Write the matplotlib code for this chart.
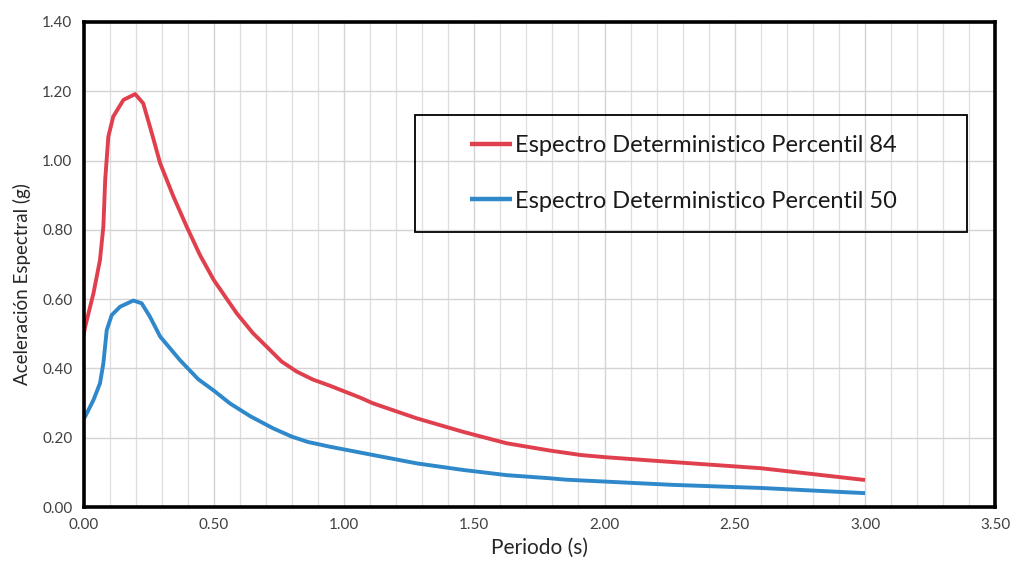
import numpy as np
import matplotlib
matplotlib.use("Agg")
import matplotlib.pyplot as plt
from matplotlib.patches import Rectangle
from matplotlib.ticker import MultipleLocator, FormatStrFormatter

plt.rcParams['font.family'] = ['Lato', 'DejaVu Sans']

# Espectro Deterministico Percentil 84
T_P84  = [0.00, 0.006, 0.038, 0.063, 0.076, 0.083, 0.095, 0.114, 0.153, 0.198, 0.229,
          0.262, 0.294, 0.345, 0.396, 0.447, 0.50, 0.588, 0.65, 0.716, 0.76, 0.818,
          0.88, 0.946, 1.061, 1.112, 1.279, 1.457, 1.624, 1.79, 1.91, 2.00, 2.22,
          2.60, 3.00]
SA_P84 = [0.495, 0.52, 0.617, 0.713, 0.81, 0.944, 1.069, 1.127, 1.175, 1.192, 1.165,
          1.079, 0.992, 0.896, 0.809, 0.727, 0.655, 0.559, 0.502, 0.453, 0.420, 0.391,
          0.368, 0.350, 0.316, 0.299, 0.256, 0.217, 0.184, 0.163, 0.150, 0.144, 0.132,
          0.112, 0.078]

# Espectro Deterministico Percentil 50
T_P50  = [0.00, 0.006, 0.038, 0.063, 0.076, 0.089, 0.108, 0.14, 0.191, 0.223, 0.255,
          0.294, 0.37, 0.44, 0.50, 0.562, 0.64, 0.728, 0.80, 0.86, 0.946, 1.112, 1.279,
          1.457, 1.624, 1.79, 1.85, 2.26, 2.60, 3.00]
SA_P50 = [0.255, 0.261, 0.309, 0.357, 0.415, 0.511, 0.554, 0.578, 0.596, 0.588, 0.549,
          0.492, 0.424, 0.369, 0.336, 0.299, 0.262, 0.227, 0.203, 0.188, 0.174, 0.150,
          0.126, 0.107, 0.092, 0.083, 0.079, 0.064, 0.055, 0.040]

LABELS = ['Espectro Deterministico Percentil 84', 'Espectro Deterministico Percentil 50']
RED = '#e0404e'
BLUE = '#2f88c9'

fig = plt.figure(figsize=(10.13, 5.72), dpi=100)
ax = fig.add_axes([0.0825, 0.1136, 0.900, 0.848])

ax.plot(T_P84, SA_P84, color=RED, lw=2.8, solid_capstyle='butt',
        solid_joinstyle='round', label=LABELS[0])
ax.plot(T_P50, SA_P50, color=BLUE, lw=2.8, solid_capstyle='butt',
        solid_joinstyle='round', label=LABELS[1])

ax.set_xlim(0, 3.5)
ax.set_ylim(0, 1.4)
ax.xaxis.set_major_locator(MultipleLocator(0.5))
ax.xaxis.set_minor_locator(MultipleLocator(0.1))
ax.yaxis.set_major_locator(MultipleLocator(0.2))
ax.xaxis.set_major_formatter(FormatStrFormatter('%.2f'))
ax.yaxis.set_major_formatter(FormatStrFormatter('%.2f'))
ax.grid(which='major', color='#d4d4d4', lw=1.0)
ax.grid(which='minor', axis='x', color='#dedede', lw=0.9)
ax.set_axisbelow(True)
ax.tick_params(which='both', length=0, labelsize=11, labelcolor='#404040', pad=8)

for s in ax.spines.values():
    s.set_linewidth(2.6)
    s.set_color('black')

ax.set_xlabel('Periodo (s)', fontsize=15, color='#262626', labelpad=4)
ax.set_ylabel('Aceleración Espectral (g)', fontsize=13.5, color='#262626')
ax.yaxis.set_label_coords(-0.058, 0.46)

# legend box (wider than its content, as in the source chart)
ax.add_patch(Rectangle((0.3635, 0.567), 0.6053, 0.241, transform=ax.transAxes,
                       fill=False, edgecolor='black', lw=1.3, zorder=4))
leg = ax.legend(loc='center left', bbox_to_anchor=(0.4238, 0.6876), fontsize=17,
                frameon=False, handlelength=1.78, handletextpad=0.12,
                labelspacing=1.45, borderpad=0, borderaxespad=0)
for t in leg.get_texts():
    t.set_color('#1a1a1a')
for h in leg.get_lines():
    h.set_linewidth(3.2)

fig.savefig('out.png', dpi=100)
